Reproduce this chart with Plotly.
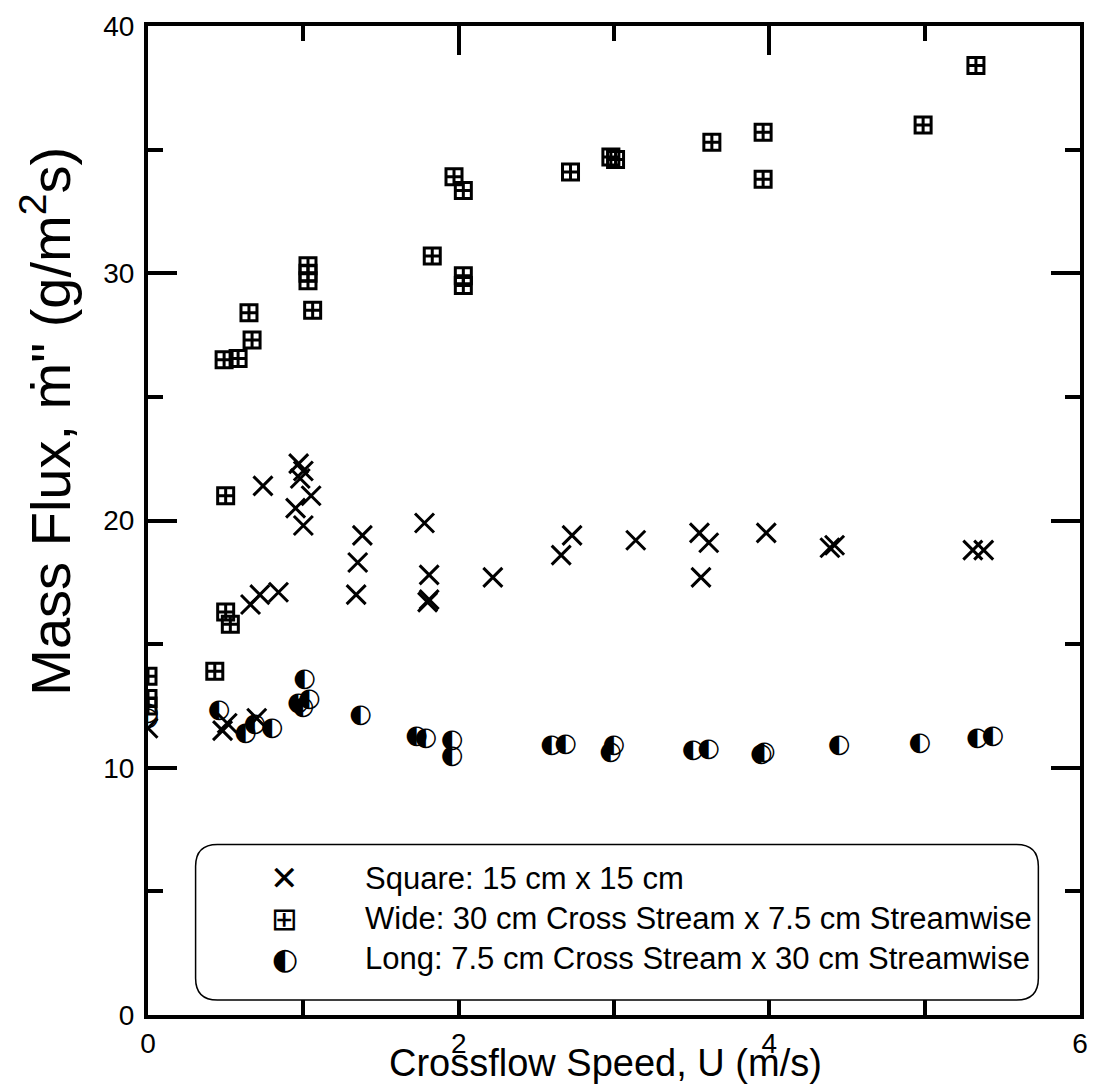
import plotly.graph_objects as go

# ---- data ----
square_x = [0.0, 0.48, 0.51, 0.70, 0.66, 0.72, 0.84, 0.74, 0.97, 1.0, 0.98, 1.05, 0.95, 1.0,
            1.38, 1.35, 1.34, 1.78, 1.81, 1.80, 1.81, 2.22, 2.66, 2.73, 3.14, 3.55, 3.61, 3.56,
            3.98, 4.39, 4.42, 5.31, 5.38]
square_y = [11.6, 11.5, 11.8, 12.0, 16.6, 17.0, 17.1, 21.4, 22.3, 22.0, 21.7, 21.0, 20.5, 19.8,
            19.4, 18.3, 17.0, 19.9, 17.8, 16.7, 16.8, 17.7, 18.6, 19.4, 19.2, 19.5, 19.1, 17.7,
            19.5, 18.9, 19.0, 18.8, 18.8]

wide_x = [0.0, 0.0, 0.0, 0.43, 0.5, 0.53, 0.5, 0.49, 0.58, 0.67, 0.65, 1.03, 1.03, 1.03, 1.06,
          1.83, 1.97, 2.03, 2.03, 2.03, 2.72, 2.98, 3.01, 3.63, 3.96, 3.96, 4.99, 5.33]
wide_y = [13.7, 12.8, 12.5, 13.9, 16.3, 15.8, 21.0, 26.5, 26.55, 27.3, 28.4, 30.3, 30.0, 29.7, 28.5,
          30.7, 33.9, 33.35, 29.9, 29.5, 34.1, 34.7, 34.6, 35.3, 35.7, 33.8, 36.0, 38.4]

long_x = [0.0, 0.0, 0.46, 0.63, 0.69, 0.8, 1.01, 0.97, 1.0, 1.04, 1.37, 1.73, 1.79, 1.96, 1.96,
          2.6, 2.69, 2.98, 3.0, 3.51, 3.61, 3.95, 3.97, 4.45, 4.97, 5.34, 5.44]
long_y = [12.2, 12.0, 12.3, 11.4, 11.75, 11.6, 13.55, 12.6, 12.45, 12.75, 12.1, 11.25, 11.2, 11.1, 10.45,
          10.9, 10.95, 10.6, 10.9, 10.7, 10.75, 10.55, 10.6, 10.9, 11.0, 11.2, 11.25]

legend_labels = ["Square: 15 cm x 15 cm",
                 "Wide: 30 cm Cross Stream x 7.5 cm Streamwise",
                 "Long: 7.5 cm Cross Stream x 30 cm Streamwise"]
legend_symbols = ["\u2715", "\u229e", "\u25d0"]

x_ticks = [0, 2, 4, 6]
y_ticks = [0, 10, 20, 30, 40]

FONT = "Liberation Sans, Arial, sans-serif"

fig = go.Figure()
fig.add_trace(go.Scatter(x=square_x, y=square_y, mode="markers", name=legend_labels[0],
                         marker=dict(symbol="x-thin", size=19, color="black",
                                     line=dict(color="black", width=3))))
fig.add_trace(go.Scatter(x=wide_x, y=wide_y, mode="markers", name=legend_labels[1],
                         marker=dict(symbol="square-cross-open", size=16, color="black",
                                     line=dict(color="black", width=3))))
fig.add_trace(go.Scatter(x=long_x, y=long_y, mode="text", name=legend_labels[2],
                         text=[legend_symbols[2]] * len(long_x), textposition="middle center",
                         textfont=dict(family="DejaVu Sans", size=26, color="black")))

# plot-area geometry (px)
L, R, T, B = 148, 1088, 18, 1015
W, H = 1099, 1085
pw, ph = R - L, B - T

def px2paper(px, py):
    return (px - L) / pw, (B - py) / ph

# rounded legend box
bx0, bx1, by0, by1, rad = 196, 1046, 843, 1000, 22
x0, yt = px2paper(bx0, by0)
x1, yb = px2paper(bx1, by1)
rx, ry = rad / pw, rad / ph
path = (f"M {x0+rx},{yt} L {x1-rx},{yt} Q {x1},{yt} {x1},{yt-ry} "
        f"L {x1},{yb+ry} Q {x1},{yb} {x1-rx},{yb} "
        f"L {x0+rx},{yb} Q {x0},{yb} {x0},{yb+ry} "
        f"L {x0},{yt-ry} Q {x0},{yt} {x0+rx},{yt} Z")
fig.add_shape(type="path", path=path, xref="paper", yref="paper",
              line=dict(color="black", width=1.5), fillcolor="white", layer="above")

annotations = []
rows_py = [877, 918, 958]
sym_sizes = [34, 32, 30]
for i, lab in enumerate(legend_labels):
    sx, sy = px2paper(286, rows_py[i])
    tx, _ = px2paper(365, rows_py[i])
    annotations.append(dict(x=sx, y=sy, xref="paper", yref="paper", text=legend_symbols[i],
                            showarrow=False, xanchor="center", yanchor="middle",
                            font=dict(family="DejaVu Sans", size=sym_sizes[i], color="black")))
    annotations.append(dict(x=tx, y=sy, xref="paper", yref="paper", text=lab,
                            showarrow=False, xanchor="left", yanchor="middle",
                            font=dict(family=FONT, size=31, color="black")))

# axis titles
tx, ty = px2paper(609, 1063)
annotations.append(dict(x=tx, y=ty, xref="paper", yref="paper", text="Crossflow Speed, U (m/s)",
                        showarrow=False, xanchor="center", yanchor="middle",
                        font=dict(family=FONT, size=38, color="black")))
tx, ty = px2paper(46, 416)
annotations.append(dict(x=tx, y=ty, xref="paper", yref="paper",
                        text="Mass Flux, \u1e41\" (g/m<sup>2</sup>s)", textangle=-90,
                        showarrow=False, xanchor="center", yanchor="middle",
                        font=dict(family=FONT, size=56, color="black")))

axis_common = dict(showline=True, linewidth=4, linecolor="black", mirror="allticks",
                   ticks="inside", ticklen=29, tickwidth=4, tickcolor="black",
                   showgrid=False, zeroline=False,
                   tickfont=dict(family=FONT, size=28, color="black"))

fig.update_layout(
    width=W, height=H,
    margin=dict(l=L, r=W - R, t=T, b=H - B, pad=0),
    paper_bgcolor="white", plot_bgcolor="white",
    showlegend=False,
    annotations=annotations,
    xaxis=dict(range=[0, 6], tickvals=x_ticks, ticktext=[str(v) for v in x_ticks],
               ticklabelstandoff=0,
               minor=dict(dtick=1, tick0=0, ticks="inside", ticklen=15, tickwidth=4,
                          tickcolor="black", showgrid=False),
               **axis_common),
    yaxis=dict(range=[0, 40], tickvals=y_ticks, ticktext=[str(v) for v in y_ticks],
               ticklabelstandoff=4,
               minor=dict(dtick=5, tick0=0, ticks="inside", ticklen=15, tickwidth=4,
                          tickcolor="black", showgrid=False),
               **axis_common),
)

fig.write_html("out.html", config={"displayModeBar": False},
               post_script="document.body.style.margin='0';")
